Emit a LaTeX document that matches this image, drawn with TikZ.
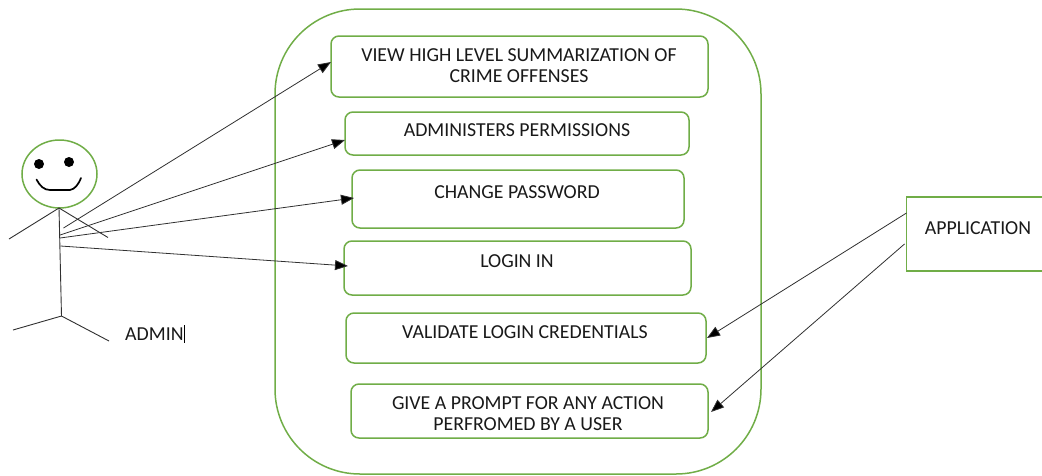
\documentclass[tikz,border=0pt]{standalone}
\usepackage{fontspec}
\setmainfont{Carlito}
\usetikzlibrary{arrows.meta,shapes.geometric}
\definecolor{grn}{HTML}{70AD47}
\definecolor{ln}{HTML}{303030}
\tikzset{
 x=1pt,y=-1pt,
 ucase/.style={draw=grn,line width=1.5pt,rounded corners=8pt,inner sep=0pt,outer sep=0pt,fill=white},
 txt/.style={font=\fontsize{19.8}{21}\selectfont,text=black!90,inner sep=0pt,align=center},
 conn/.style={draw=ln,line width=0.8pt,-{Triangle[length=13pt,width=10pt,fill=black]}},
 limb/.style={draw=ln,line width=0.9pt},
}
\newcommand{\ubox}[5]{\node[ucase,minimum width=#4-#2,minimum height=#5-#3,anchor=north west] (#1) at (#2,#3) {};}
\begin{document}
\begin{tikzpicture}
\useasboundingbox (0,0) rectangle (1042,475);
\node[draw=grn,line width=1.5pt,rounded corners=85pt,minimum width=486,minimum height=465,anchor=north west,inner sep=0pt,outer sep=0pt] (sys) at (275,9) {};
\ubox{b1}{331}{36}{708}{97}
\ubox{b2}{345}{112}{689}{155}
\ubox{b3}{352}{170}{684}{228}
\ubox{b4}{344}{241}{691}{295}
\ubox{b5}{346}{313}{706}{363}
\ubox{b6}{351}{384}{708}{438}
\node[txt] (t1) at (519,65.5) {VIEW HIGH LEVEL SUMMARIZATION OF\\CRIME OFFENSES};
\node[txt] (t2) at (517,130) {ADMINISTERS PERMISSIONS};
\node[txt] (t3) at (517,192.5) {CHANGE PASSWORD};
\node[txt] (t4) at (517,261) {LOGIN IN};
\node[txt] (t5) at (525,332) {VALIDATE LOGIN CREDENTIALS};
\node[txt] (t6) at (528,413.5) {GIVE A PROMPT FOR ANY ACTION\\PERFROMED BY A USER};
% application box runs off the right edge
\node[draw=grn,line width=1.5pt,minimum width=150,minimum height=74,anchor=north west,inner sep=0pt,outer sep=0pt] (app) at (906.5,197) {};
\node[txt] (t7) at (978,228) {APPLICATION};
% actor
\node[draw=grn,line width=1.5pt,ellipse,minimum width=75,minimum height=68,inner sep=0pt,outer sep=0pt] (head) at (59.5,174) {};
\node[circle,fill=black,minimum size=10,inner sep=0pt] (eyeL) at (39,164) {};
\node[circle,fill=black,minimum size=10,inner sep=0pt] (eyeR) at (69,162) {};
\draw[black,line width=1.7pt,line cap=round] (36.5,179.5) .. controls (40,186) and (44,190) .. (50,190) -- (70,190) .. controls (75,189) and (78,185) .. (81,178);
\coordinate (neck) at (59,208);
\coordinate (hip) at (61.5,316);
\coordinate (handL) at (9,239);
\coordinate (handR) at (108,237.5);
\coordinate (footL) at (13,330);
\coordinate (footR) at (109,341);
\draw[limb] (handL) -- (neck) -- (handR);
\draw[limb] (neck) -- (hip);
\draw[limb] (footL) -- (hip) -- (footR);
\node[txt,anchor=west] (adm) at (125,334) {ADMIN};
\draw[black,line width=0.8pt] ([xshift=0.5pt]adm.east |- 0,325) -- ([xshift=0.5pt]adm.east |- 0,343);
% connectors
\coordinate (a1) at (63.5,228);
\coordinate (a2) at (60,235);
\coordinate (a3) at (60,238);
\coordinate (a4) at (60.5,246);
\draw[conn] (a1) -- ([yshift=4.5pt]b1.west);
\draw[conn] (a2) -- ([yshift=-6.5pt]b2.west);
\draw[conn] (a3) -- ([yshift=1pt,xshift=2pt]b3.west);
\draw[conn] (a4) -- ([yshift=2pt,xshift=4pt]b4.west);
\draw[conn] ([yshift=21pt]app.west) -- ([xshift=1pt]b5.east);
\draw[conn] ([yshift=-10pt,xshift=-2pt]app.west) -- ([yshift=-1pt,xshift=3pt]b6.east);
\end{tikzpicture}
\end{document}
